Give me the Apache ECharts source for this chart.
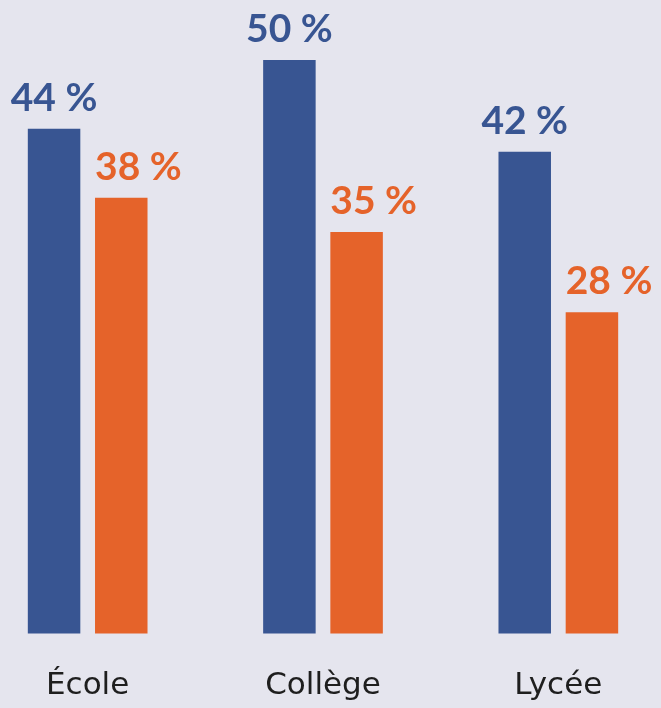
<!DOCTYPE html>
<html>
<head>
<meta charset="utf-8">
<script src="https://cdn.jsdelivr.net/npm/echarts@6/dist/echarts.min.js"></script>
<style>
html,body{margin:0;padding:0;background:#e5e5ee;overflow:hidden;width:661px;height:708px;position:relative;}
#chart{position:absolute;left:-30px;top:0;width:706px;height:708px;}
</style>
</head>
<body>
<div id="chart"></div>
<script>
const categories = ['École', 'Collège', 'Lycée'];
const blueValues = [44, 50, 42];
const orangeValues = [38, 35, 28];

const chart = echarts.init(document.getElementById('chart'), null, {renderer: 'canvas'});
const labelFont = {fontFamily: 'Lato', fontWeight: 'bold', fontSize: 39};
chart.setOption({
  backgroundColor: '#e5e5ee',
  animation: false,
  grid: {left: 0, right: 0, top: 60, bottom: 74.5, containLabel: false},
  xAxis: {
    type: 'category',
    data: categories,
    axisLine: {show: false},
    axisTick: {show: false},
    axisLabel: {color: '#1e1e1e', fontSize: 31, fontFamily: 'DejaVu Sans', margin: 37}
  },
  yAxis: {
    type: 'value', min: 0, max: 50,
    show: false,
    splitLine: {show: false}
  },
  series: [
    {
      type: 'bar', data: blueValues, barWidth: 52.5, barGap: '28%',
      itemStyle: {color: '#385592'},
      label: Object.assign({show: true, position: 'top', distance: 11, color: '#385592', formatter: '{c} %'}, labelFont)
    },
    {
      type: 'bar', data: orangeValues, barWidth: 52.5,
      itemStyle: {color: '#e5632a'},
      label: Object.assign({show: true, position: [0, -11], align: 'left', verticalAlign: 'bottom', color: '#e5632a', formatter: '{c} %'}, labelFont)
    }
  ]
});
</script>
</body>
</html>
